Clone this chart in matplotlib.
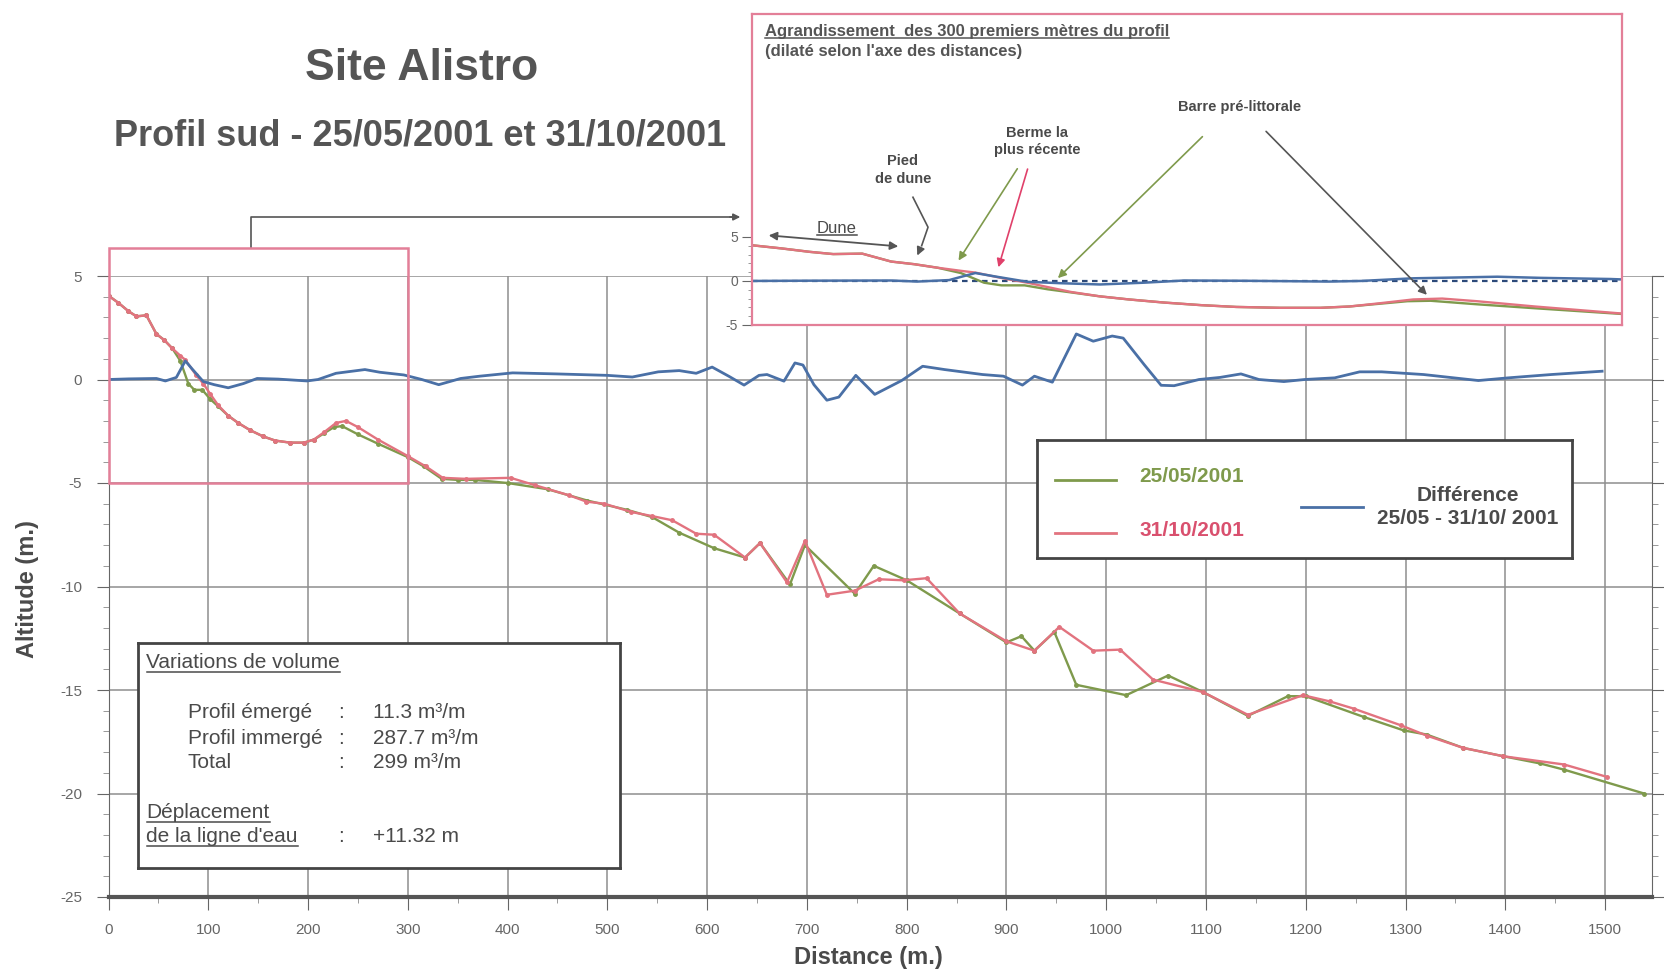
import matplotlib
matplotlib.use('Agg')
import matplotlib.pyplot as plt
from matplotlib.lines import Line2D
from matplotlib.patches import Rectangle
from matplotlib.ticker import MultipleLocator, FixedLocator
from matplotlib import font_manager as fm

# profil du 25/05/2001
dist_mai = [0, 10, 20, 28, 38, 48, 56, 64, 72, 80, 86, 94, 102, 110, 120, 130, 142, 155, 167, 182,
            196, 206, 216, 226, 234, 250, 270, 300, 316, 334, 350, 367, 400, 440, 480, 520, 545,
            572, 607, 638, 653, 683, 698, 748, 767, 800, 853, 900, 915, 928, 948, 970, 1020,
            1062, 1097, 1142, 1182, 1200, 1258, 1298, 1321, 1358, 1398, 1435, 1459, 1539]
alt_mai = [4.05, 3.7, 3.3, 3.05, 3.1, 2.2, 1.9, 1.5, 0.9, -0.2, -0.5, -0.5, -0.95, -1.3, -1.75,
           -2.1, -2.45, -2.75, -2.95, -3.05, -3.05, -2.9, -2.6, -2.3, -2.25, -2.65, -3.1, -3.75,
           -4.2, -4.8, -4.85, -4.85, -5.0, -5.3, -5.85, -6.3, -6.65, -7.4, -8.15, -8.6, -7.9,
           -9.9, -8.0, -10.35, -9.0, -9.7, -11.3, -12.7, -12.4, -13.1, -12.2, -14.75, -15.25,
           -14.3, -15.1, -16.25, -15.3, -15.3, -16.3, -16.95, -17.15, -17.8, -18.2, -18.55,
           -18.85, -20.0]

# profil du 31/10/2001
dist_oct = [0, 10, 20, 28, 38, 48, 56, 64, 72, 77, 88, 95, 102, 110, 120, 130, 142, 155, 167, 182,
            196, 206, 216, 228, 238, 250, 270, 300, 318, 335, 358, 403, 427, 462, 479, 497, 524,
            545, 565, 589, 607, 638, 653, 680, 698, 720, 748, 772, 797, 820, 853, 900, 928, 953,
            987, 1014, 1047, 1097, 1142, 1197, 1224, 1248, 1295, 1321, 1358, 1398, 1459, 1502]
alt_oct = [4.05, 3.7, 3.3, 3.05, 3.1, 2.2, 1.9, 1.5, 1.15, 0.95, 0.2, -0.2, -0.7, -1.25, -1.75,
           -2.1, -2.45, -2.75, -2.95, -3.05, -3.05, -2.9, -2.55, -2.1, -2.0, -2.3, -2.9, -3.7,
           -4.2, -4.75, -4.8, -4.75, -5.1, -5.6, -5.9, -6.0, -6.4, -6.6, -6.8, -7.45, -7.5,
           -8.6, -7.9, -9.8, -7.8, -10.4, -10.2, -9.65, -9.7, -9.6, -11.3, -12.65, -13.1,
           -11.95, -13.1, -13.05, -14.5, -15.1, -16.2, -15.25, -15.55, -15.9, -16.7, -17.2,
           -17.8, -18.2, -18.6, -19.2]

# difference 25/05 - 31/10
dist_diff = [0, 20, 48, 57, 68, 77, 84, 95, 106, 120, 135, 149, 170, 199, 210, 228, 257, 272, 296,
             314, 331, 353, 372, 405, 449, 500, 525, 551, 572, 589, 605, 622, 637, 652, 660, 677,
             688, 696, 707, 720, 732, 749, 768, 795, 816, 838, 876, 897, 916, 928, 946, 970, 987,
             1006, 1017, 1038, 1055, 1068, 1093, 1114, 1135, 1153, 1178, 1199, 1229, 1254, 1276,
             1318, 1373, 1403, 1446, 1497]
diff = [0.0, 0.03, 0.05, -0.07, 0.1, 0.9, 0.5, -0.1, -0.25, -0.4, -0.2, 0.05, 0.02, -0.07, 0.0,
        0.3, 0.48, 0.35, 0.22, 0.0, -0.25, 0.05, 0.16, 0.32, 0.27, 0.2, 0.12, 0.37, 0.43, 0.3,
        0.6, 0.15, -0.27, 0.2, 0.24, -0.08, 0.8, 0.7, -0.25, -1.0, -0.85, 0.2, -0.72, -0.05,
        0.64, 0.48, 0.24, 0.16, -0.27, 0.16, -0.13, 2.2, 1.85, 2.1, 2.0, 0.72, -0.28, -0.3, 0.0,
        0.1, 0.27, 0.0, -0.1, 0.0, 0.08, 0.37, 0.37, 0.24, -0.05, 0.08, 0.24, 0.4]

vol_labels = ['Profil émergé', 'Profil immergé', 'Total']
vol_values = ['11.3 m³/m', '287.7 m³/m', '299 m³/m']
deplacement = '+11.32 m'

GREEN = '#7f9a4c'
RED = '#e2737f'
BLUE = '#4a70a6'
PINK = '#e37f98'
TXT = '#4a4a4a'

names = {f.name for f in fm.fontManager.ttflist}
plt.rcParams['font.family'] = ['Liberation Sans', 'DejaVu Sans']
plt.rcParams['axes.unicode_minus'] = False
narrow = 'Liberation Sans Narrow' if 'Liberation Sans Narrow' in names else 'Liberation Sans'

fig = plt.figure(figsize=(16.64, 9.76), dpi=100)
W, H = 1664.0, 976.0

ax = fig.add_axes([108.5 / W, 1 - 897 / H, 1543.5 / W, 621 / H])
ax.set_xlim(0, 1547)
ax.set_ylim(-25, 5)
ax.xaxis.set_major_locator(MultipleLocator(100))
ax.xaxis.set_minor_locator(MultipleLocator(50))
ax.yaxis.set_major_locator(MultipleLocator(5))
ax.yaxis.set_minor_locator(MultipleLocator(1))
ax.grid(True, which='major', color='#8e8e8e', lw=1.1)
ax.set_axisbelow(True)
ax.spines['top'].set_visible(False)
ax.spines['bottom'].set_linewidth(3)
ax.spines['bottom'].set_color('#555555')
for s in ['left', 'right']:
    ax.spines[s].set_color('#666666')
ax.tick_params(which='major', length=9, color='#666666', labelcolor='#666666',
               right=True, pad=10)
ax.tick_params(which='minor', length=4, color='#888888', right=True)
for lab in ax.get_xticklabels() + ax.get_yticklabels():
    lab.set_fontfamily(narrow)
    lab.set_fontsize(11)

ax.plot(dist_mai, alt_mai, color=GREEN, lw=1.7, marker='o', ms=2.5)
ax.plot(dist_oct, alt_oct, color=RED, lw=1.7, marker='o', ms=2.5)
ax.plot(dist_diff, diff, color=BLUE, lw=2)

ax.set_xlabel('Distance (m.)', fontsize=17, fontweight='bold', color=TXT)
ax.set_ylabel('Altitude (m.)', fontsize=17, fontweight='bold', color=TXT)
ax.xaxis.set_label_coords(0.492, -0.079)
ax.yaxis.set_label_coords(-0.045, 0.496)

# cadre des 300 premiers metres + renvoi vers l'agrandissement
ax.add_patch(Rectangle((0, -5), 300, 11.33, fill=False, ec=PINK, lw=1.8, clip_on=False, zorder=5))
ax.plot([143, 143, 625], [6.33, 7.85, 7.85], color='#555555', lw=1.2, clip_on=False)
ax.annotate('', xy=(636, 7.85), xytext=(620, 7.85), xycoords='data',
            arrowprops=dict(arrowstyle='-|>', color='#555555', lw=1.2), annotation_clip=False)

fig.text(422 / W, 1 - 69 / H, 'Site Alistro', fontsize=32, fontweight='bold', color='#555555',
         ha='center', va='center')
fig.text(420 / W, 1 - 136 / H, 'Profil sud - 25/05/2001 et 31/10/2001', fontsize=26,
         fontweight='bold', color='#555555', ha='center', va='center')

underlined = []

# agrandissement
axi = fig.add_axes([752 / W, 1 - 325 / H, 870 / W, 311 / H])
axi.set_xlim(0, 300)
axi.set_ylim(-5, 30.3)
axi.set_xticks([])
axi.yaxis.set_major_locator(FixedLocator([-5, 0, 5]))
axi.yaxis.set_minor_locator(FixedLocator(range(-5, 6)))
axi.tick_params(which='major', length=7, color='#666666', labelcolor='#666666', labelsize=10, pad=3)
axi.tick_params(which='minor', length=3, color='#888888')
for s in axi.spines.values():
    s.set_color(PINK)
    s.set_linewidth(1.6)
axi.axhline(0, color='#2d4a7a', lw=1.6, ls=(0, (2.5, 2)))
axi.plot(dist_mai, alt_mai, color=GREEN, lw=1.7)
axi.plot(dist_oct, alt_oct, color=RED, lw=1.7)
axi.plot(dist_diff, diff, color=BLUE, lw=1.8)

underlined.append(axi.text(4.5, 28.3, 'Agrandissement  des 300 premiers mètres du profil',
                           fontsize=12, fontweight='bold', color='#555555', va='center'))
axi.text(4.5, 26.0, "(dilaté selon l'axe des distances)", fontsize=12, fontweight='bold',
         color='#555555', va='center')
axi.text(168, 19.8, 'Barre pré-littorale', fontsize=10.5, fontweight='bold', color=TXT,
         ha='center', va='center')
axi.text(98.3, 15.8, 'Berme la\nplus récente', fontsize=10.5, fontweight='bold', color=TXT,
         ha='center', va='center', linespacing=1.3)
axi.text(52, 12.6, 'Pied\nde dune', fontsize=10.5, fontweight='bold', color=TXT,
         ha='center', va='center', linespacing=1.3)
underlined.append(axi.text(29.3, 5.9, 'Dune', fontsize=12, color=TXT, ha='center', va='center'))
axi.annotate('', xy=(4.8, 5.2), xytext=(51.4, 3.9),
             arrowprops=dict(arrowstyle='<|-|>', color='#555555', lw=1.3, mutation_scale=12))
axi.plot([55.5, 60.7, 58.5], [9.5, 6.1, 4.0], color='#555555', lw=1.2)
axi.annotate('', xy=(56.6, 2.6), xytext=(58.5, 4.0),
             arrowprops=dict(arrowstyle='-|>', color='#555555', lw=1.2, mutation_scale=12))
axi.annotate('', xy=(70.7, 2.05), xytext=(92, 13.0),
             arrowprops=dict(arrowstyle='-|>', color=GREEN, lw=1.2, mutation_scale=12))
axi.annotate('', xy=(84.7, 1.25), xytext=(95.3, 13.0),
             arrowprops=dict(arrowstyle='-|>', color='#e0406a', lw=1.2, mutation_scale=12))
axi.annotate('', xy=(104.8, 0.1), xytext=(156, 16.6),
             arrowprops=dict(arrowstyle='-|>', color=GREEN, lw=1.2, mutation_scale=12))
axi.annotate('', xy=(233.4, -1.8), xytext=(176.6, 17.2),
             arrowprops=dict(arrowstyle='-|>', color='#555555', lw=1.2, mutation_scale=12))

# legende
axl = fig.add_axes([1037 / W, 1 - 558 / H, 535 / W, 118 / H])
axl.set_xlim(0, 535)
axl.set_ylim(118, 0)
axl.set_xticks([])
axl.set_yticks([])
for s in axl.spines.values():
    s.set_color('#444444')
    s.set_linewidth(2)
axl.plot([18, 79], [40, 40], color=GREEN, lw=2)
axl.plot([18, 79], [93, 93], color=RED, lw=2)
axl.plot([264, 326], [67, 67], color=BLUE, lw=2)
axl.text(155, 37, '25/05/2001', color=GREEN, fontsize=15, fontweight='bold', ha='center', va='center')
axl.text(155, 91, '31/10/2001', color='#d9506e', fontsize=15, fontweight='bold', ha='center', va='center')
axl.text(431, 67, 'Différence\n25/05 - 31/10/ 2001', color=TXT, fontsize=15, fontweight='bold',
         ha='center', va='center', linespacing=1.25)

# variations de volume
axv = fig.add_axes([137.5 / W, 1 - 868 / H, 482 / W, 225 / H])
axv.set_xlim(0, 482)
axv.set_ylim(225, 0)
axv.set_xticks([])
axv.set_yticks([])
for s in axv.spines.values():
    s.set_color('#444444')
    s.set_linewidth(2)
underlined.append(axv.text(9, 20, 'Variations de volume', fontsize=15, color=TXT, va='center'))
for i, (lab, val) in enumerate(zip(vol_labels, vol_values)):
    y = 70 + 25 * i
    axv.text(50, y, lab, fontsize=15, color=TXT, va='center')
    axv.text(201, y, ':', fontsize=15, color=TXT, va='center')
    axv.text(235, y, val, fontsize=15, color=TXT, va='center')
underlined.append(axv.text(9, 170, 'Déplacement', fontsize=15, color=TXT, va='center'))
underlined.append(axv.text(9, 194, "de la ligne d'eau", fontsize=15, color=TXT, va='center'))
axv.text(201, 194, ':', fontsize=15, color=TXT, va='center')
axv.text(235, 194, deplacement, fontsize=15, color=TXT, va='center')

# soulignement des textes
fig.canvas.draw()
r = fig.canvas.get_renderer()
for t in underlined:
    bb = t.get_window_extent(r)
    yy = (bb.y0 + 1) / H
    fig.add_artist(Line2D([bb.x0 / W, bb.x1 / W], [yy, yy], color=t.get_color(), lw=1.1))

fig.savefig('out.png', dpi=100)
